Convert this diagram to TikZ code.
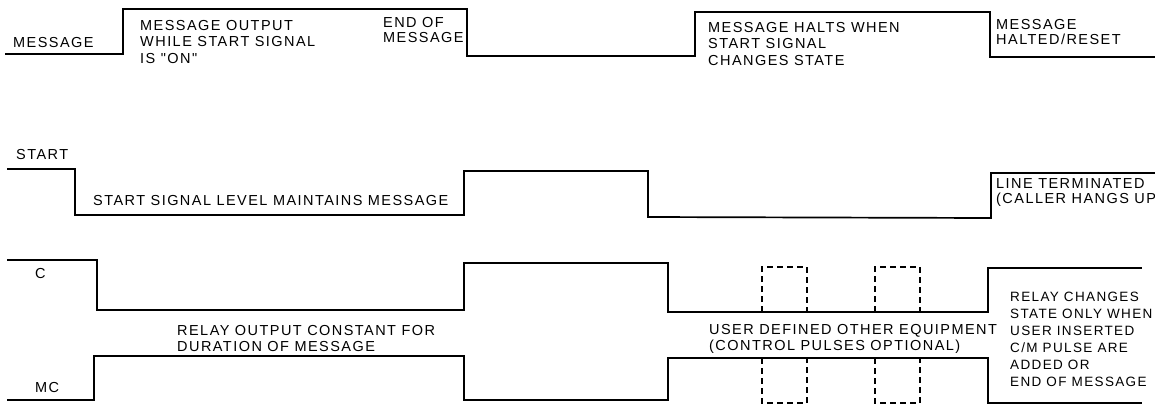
\documentclass[tikz,border=0pt]{standalone}
\usepackage{fontspec}
\setmainfont[LetterSpace=10,Ligatures=TeXOff]{Liberation Sans}
\begin{document}
\begin{tikzpicture}[x=1bp,y=-1bp,
  wave/.style={line width=1.7bp, line join=miter},
  pulse/.style={line width=1.1bp, dash pattern=on 6bp off 4bp},
  lbl/.style={inner sep=0pt, font=\fontsize{14.5bp}{16.5bp}\selectfont, align=left},
  tight/.style={font=\fontsize{14.5bp}{15bp}\selectfont}]
\useasboundingbox (0,0) rectangle (1155,406);
% labels
\node[lbl, anchor=base west] (msg) at (13,47) {MESSAGE};
\node[lbl, anchor=north west] (msgout) at (140,20) {MESSAGE OUTPUT\\WHILE START SIGNAL\\IS "ON"};
\node[lbl, tight, anchor=north west] (eom) at (383,17) {END OF\\MESSAGE};
\node[lbl, anchor=north west] (halts) at (708,22) {MESSAGE HALTS WHEN\\START SIGNAL\\CHANGES STATE};
\node[lbl, tight, anchor=north west] (halted) at (996,19) {MESSAGE\\HALTED/RESET};
\node[lbl, anchor=base west] (start) at (16,159) {START};
\node[lbl, anchor=base west] (maint) at (93,205) {START SIGNAL LEVEL MAINTAINS MESSAGE};
\node[lbl, tight, anchor=north west] (term) at (996,178) {LINE TERMINATED\\(CALLER HANGS UP};
\node[lbl, anchor=base west] (c) at (35,278) {C};
\node[lbl, anchor=base west] (mc) at (35,392) {MC};
\node[lbl, anchor=north west] (relay) at (177,325) {RELAY OUTPUT CONSTANT FOR\\DURATION OF MESSAGE};
\node[lbl, anchor=north west] (user) at (709,324) {USER DEFINED OTHER EQUIPMENT\\(CONTROL PULSES OPTIONAL)};
\node[lbl, font=\fontsize{13.5bp}{17bp}\selectfont, anchor=north west] (chg) at (1010,292) {RELAY CHANGES\\STATE ONLY WHEN\\USER INSERTED\\C/M PULSE ARE\\ADDED OR\\END OF MESSAGE};
% waveforms
\draw[wave] (5,54) -- (123,54) -- (123,9) -- (467,9) -- (467,56) -- (695,56) -- (695,12) -- (990,12) -- (990,57) -- (1155,57);
\draw[wave] (7,169) -- (75,169) -- (75,215) -- (464,215) -- (464,171) -- (648,171) -- (648,217) -- (991,218) -- (991,173) -- (1155,173);
\draw[wave] (7,260) -- (97,260) -- (97,310) -- (464,310) -- (464,263) -- (668,263) -- (668,312) -- (988,312) -- (988,268) -- (1142,268);
\draw[wave] (7,400) -- (94,400) -- (94,356) -- (464,356) -- (464,400) -- (668,400) -- (668,358) -- (988,358) -- (988,403) -- (1142,403);
% optional control pulses
\draw[pulse] (762,312) -- (762,267) -- (807,267) -- (807,312);
\draw[pulse] (875,312) -- (875,267) -- (920,267) -- (920,312);
\draw[pulse] (762,358) -- (762,403) -- (807,403) -- (807,358);
\draw[pulse] (875,358) -- (875,403) -- (920,403) -- (920,358);
\end{tikzpicture}
\end{document}
